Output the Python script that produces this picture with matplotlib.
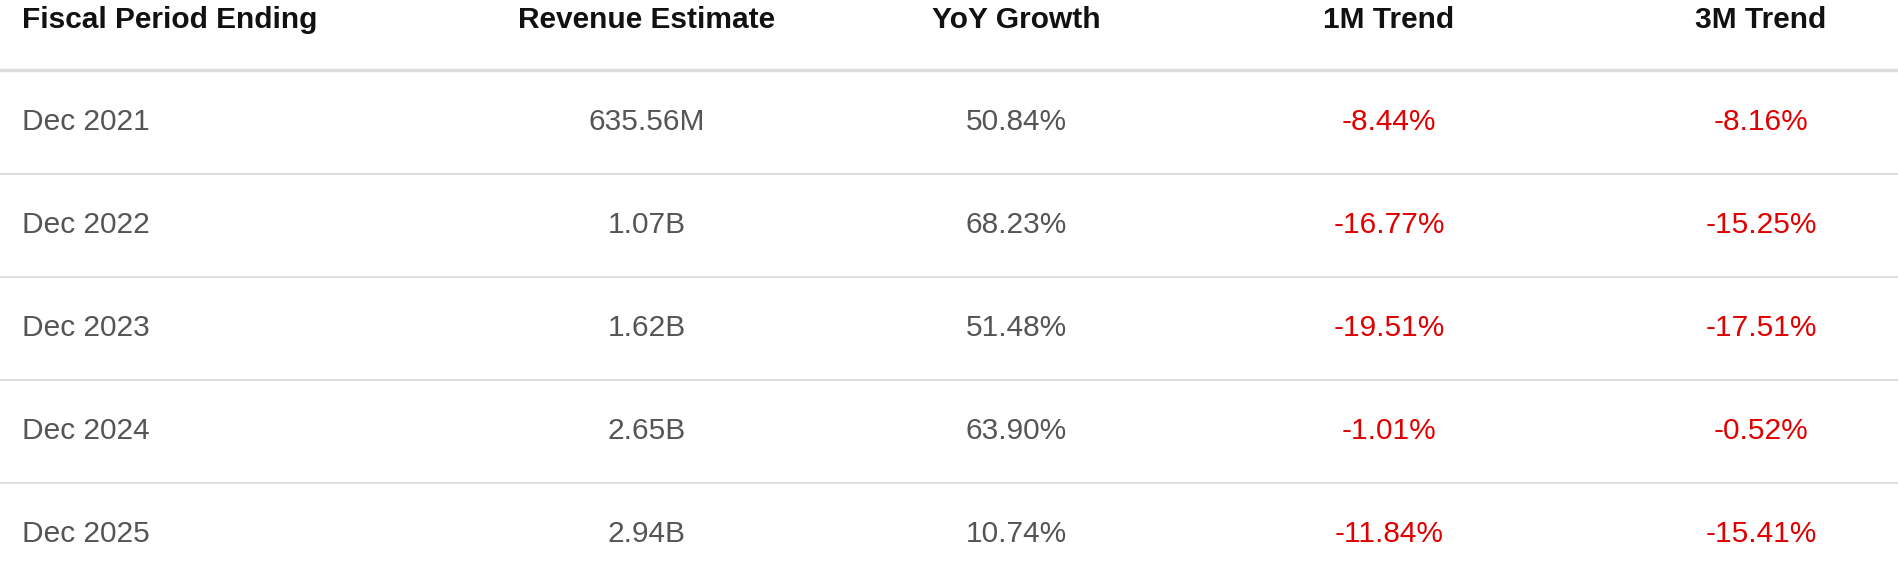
import matplotlib
matplotlib.use("Agg")
import matplotlib.pyplot as plt

headers = ["Fiscal Period Ending", "Revenue Estimate", "YoY Growth", "1M Trend", "3M Trend"]
periods = ["Dec 2021", "Dec 2022", "Dec 2023", "Dec 2024", "Dec 2025"]
revenue = ["635.56M", "1.07B", "1.62B", "2.65B", "2.94B"]
yoy = ["50.84%", "68.23%", "51.48%", "63.90%", "10.74%"]
trend_1m = ["-8.44%", "-16.77%", "-19.51%", "-1.01%", "-11.84%"]
trend_3m = ["-8.16%", "-15.25%", "-17.51%", "-0.52%", "-15.41%"]

W, H = 1898, 561
fig = plt.figure(figsize=(W/100, H/100), dpi=100)
ax = fig.add_axes([0, 0, 1, 1])
ax.set_xlim(0, W); ax.set_ylim(H, 0); ax.axis("off")

fam = ["Liberation Sans", "DejaVu Sans"]
fs = 21.5
xs = [22, 647, 1016, 1389, 1761]
aligns = ["left", "center", "center", "center", "center"]
for x, h, a in zip(xs, headers, aligns):
    ax.text(x, 20, h, ha=a, va="center", fontsize=fs, fontweight="bold", color="#111111", family=fam)
ax.plot([0, W], [70, 70], color="#dddddd", lw=2.5)

cols = [periods, revenue, yoy, trend_1m, trend_3m]
colors = ["#555555", "#555555", "#555555", "#e00000", "#e00000"]
for i in range(len(periods)):
    y = 122 + i * 103
    for x, col, a, c in zip(xs, cols, aligns, colors):
        ax.text(x, y, col[i], ha=a, va="center", fontsize=fs, color=c, family=fam)
    if i < len(periods) - 1:
        ax.plot([0, W], [y + 52, y + 52], color="#dddddd", lw=1.5)

fig.savefig("out.png", dpi=100)
